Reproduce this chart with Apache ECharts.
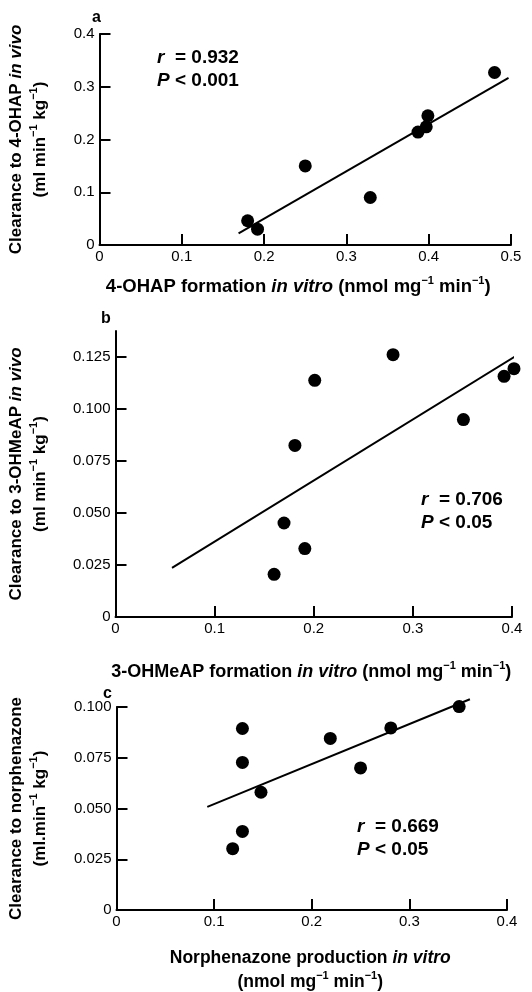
<!DOCTYPE html>
<html>
<head>
<meta charset="utf-8">
<script src="https://cdn.jsdelivr.net/npm/echarts@6/dist/echarts.min.js"></script>
<style>
html,body{margin:0;padding:0;background:#fff;}
#chart{width:532px;height:992px;}
</style>
</head>
<body>
<div id="chart"></div>
<script>
// ---- Panel a data ----
var aX = [0.18, 0.192, 0.25, 0.329, 0.387, 0.397, 0.399, 0.48];
var aY = [0.046, 0.030, 0.150, 0.090, 0.214, 0.224, 0.245, 0.327];
var aLineX = [0.169, 0.497];
var aLineY = [0.022, 0.317];
// ---- Panel b data ----
var bX = [0.16, 0.17, 0.181, 0.191, 0.201, 0.28, 0.351, 0.392, 0.402];
var bY = [0.0205, 0.0452, 0.0825, 0.0329, 0.1138, 0.1261, 0.0949, 0.1157, 0.1194];
var bLineX = [0.057, 0.406];
var bLineY = [0.0236, 0.1261];
// ---- Panel c data ----
var cX = [0.119, 0.129, 0.129, 0.129, 0.148, 0.219, 0.25, 0.281, 0.351];
var cY = [0.0302, 0.0387, 0.0727, 0.0894, 0.058, 0.0845, 0.070, 0.0897, 0.1002];
var cLineX = [0.093, 0.362];
var cLineY = [0.0508, 0.1038];
// ---- axis ranges / ticks ----
var aXTicks = [0, 0.5, 0.1];
var aYTicks = [0, 0.4, 0.1];
var bXTicks = [0, 0.4, 0.1];
var bYTicks = [0, 0.1375, 0.025];
var cXTicks = [0, 0.4, 0.1];
var cYTicks = [0, 0.1, 0.025];
// ---- statistics text ----
var statsA = ['0.932', '< 0.001'];
var statsB = ['0.706', '< 0.05'];
var statsC = ['0.669', '< 0.05'];

var FONT = '"Liberation Sans", Arial, Helvetica, sans-serif';
var K = '#000';

function pairs(xs, ys) { return xs.map(function (x, i) { return [x, ys[i]]; }); }

function mkRich(fs) {
  return {
    t: {fontFamily: FONT, fontSize: fs, fontWeight: 'bold', color: K, lineHeight: 24},
    i: {fontFamily: FONT, fontSize: fs, fontWeight: 'bold', fontStyle: 'italic', color: K, lineHeight: 24},
    s: {fontFamily: FONT, fontSize: 11, fontWeight: 'bold', color: K, lineHeight: 13, verticalAlign: 'top'}
  };
}

function fmt(dec) {
  return function (v) {
    if (Math.abs(v) < 1e-9) return '0';
    return v.toFixed(dec);
  };
}

function xAxisCfg(idx, ticks, name, gap, dec, fs, pad) {
  return {
    type: 'value', gridIndex: idx, min: ticks[0], max: ticks[1], interval: ticks[2],
    name: name, nameLocation: 'middle', nameGap: gap,
    nameTextStyle: {rich: mkRich(fs), padding: pad},
    axisLine: {show: true, onZero: false, lineStyle: {color: K, width: 2}},
    axisTick: {show: true, inside: true, length: 11, lineStyle: {color: K, width: 2}},
    axisLabel: {color: K, fontFamily: FONT, fontSize: 15, margin: 4, formatter: fmt(dec)},
    splitLine: {show: false}
  };
}
function yAxisCfg(idx, ticks, name, gap, dec) {
  return {
    type: 'value', gridIndex: idx, min: ticks[0], max: ticks[1], interval: ticks[2],
    name: name, nameLocation: 'middle', nameGap: gap, nameRotate: 90,
    nameTextStyle: {rich: mkRich(17), align: 'center'},
    axisLine: {show: true, onZero: false, lineStyle: {color: K, width: 2}},
    axisTick: {show: true, inside: true, length: 11, lineStyle: {color: K, width: 2}},
    axisLabel: {color: K, fontFamily: FONT, fontSize: 15, margin: 5, formatter: fmt(dec), showMaxLabel: idx !== 1},
    splitLine: {show: false}
  };
}

function scatter(idx, xs, ys) {
  return {type: 'scatter', xAxisIndex: idx, yAxisIndex: idx, data: pairs(xs, ys), clip: false,
    symbol: 'circle', symbolSize: 13, itemStyle: {color: K, opacity: 1}, silent: true, z: 3};
}
function fit(idx, xs, ys) {
  return {type: 'line', xAxisIndex: idx, yAxisIndex: idx, data: pairs(xs, ys), clip: false,
    symbol: 'none', lineStyle: {color: K, width: 2}, silent: true, z: 2};
}

var statRich = {
  i: {fontFamily: FONT, fontSize: 19, fontWeight: 'bold', fontStyle: 'italic', fill: K},
  t: {fontFamily: FONT, fontSize: 19, fontWeight: 'bold', fill: K}
};
function statText(x, y, s) {
  return [
    {type: 'text', left: x, top: y, style: {text: '{i|r}{t|  = ' + s[0] + '}', rich: statRich}},
    {type: 'text', left: x, top: y + 23, style: {text: '{i|P}{t| ' + s[1] + '}', rich: statRich}}
  ];
}
function letter(x, y, l) {
  return {type: 'text', left: x, top: y, style: {text: l, fontFamily: FONT, fontSize: 16, fontWeight: 'bold', fill: K}};
}

var option = {
  animation: false,
  backgroundColor: '#fff',
  grid: [
    {left: 97, top: 34, width: 414, height: 211},
    {left: 104, top: 331, width: 408, height: 286},
    {left: 106, top: 707, width: 401, height: 205}
  ],
  xAxis: [
    xAxisCfg(0, aXTicks, '{t|4-OHAP formation }{i|in vitro}{t| (nmol mg}{s|−1}{t| min}{s|−1}{t|)}', 30, 1, 18.5, [0, 14, 0, 0]),
    xAxisCfg(1, bXTicks, '{t|3-OHMeAP formation }{i|in vitro}{t| (nmol mg}{s|−1}{t| min}{s|−1}{t|)}', 43, 1, 18, [0, 5, 0, 0]),
    xAxisCfg(2, cXTicks, '{t|Norphenazone production }{i|in vitro}\n{t|(nmol mg}{s|−1}{t| min}{s|−1}{t|)}', 36, 1, 17.5, [0, 3, 0, 0])
  ],
  yAxis: [
    yAxisCfg(0, aYTicks, '{t|Clearance to 4-OHAP }{i|in vivo}\n{t|(ml min}{s|−1}{t| kg}{s|−1}{t|)}', 47, 1),
    yAxisCfg(1, bYTicks, '{t|Clearance to 3-OHMeAP }{i|in vivo}\n{t|(ml min}{s|−1}{t| kg}{s|−1}{t|)}', 63, 3),
    yAxisCfg(2, cYTicks, '{t|Clearance to norphenazone}\n{t|(ml.min}{s|−1}{t| kg}{s|−1}{t|)}', 64, 3)
  ],
  series: [
    fit(0, aLineX, aLineY), scatter(0, aX, aY),
    fit(1, bLineX, bLineY), scatter(1, bX, bY),
    fit(2, cLineX, cLineY), scatter(2, cX, cY)
  ],
  graphic: [].concat(
    statText(157, 48, statsA),
    statText(421, 490, statsB),
    statText(357, 817, statsC),
    [letter(92, 10, 'a'), letter(101, 311, 'b'), letter(103, 686, 'c')]
  )
};

var chart = echarts.init(document.getElementById('chart'), null, {renderer: 'canvas'});
chart.setOption(option);
</script>
</body>
</html>
